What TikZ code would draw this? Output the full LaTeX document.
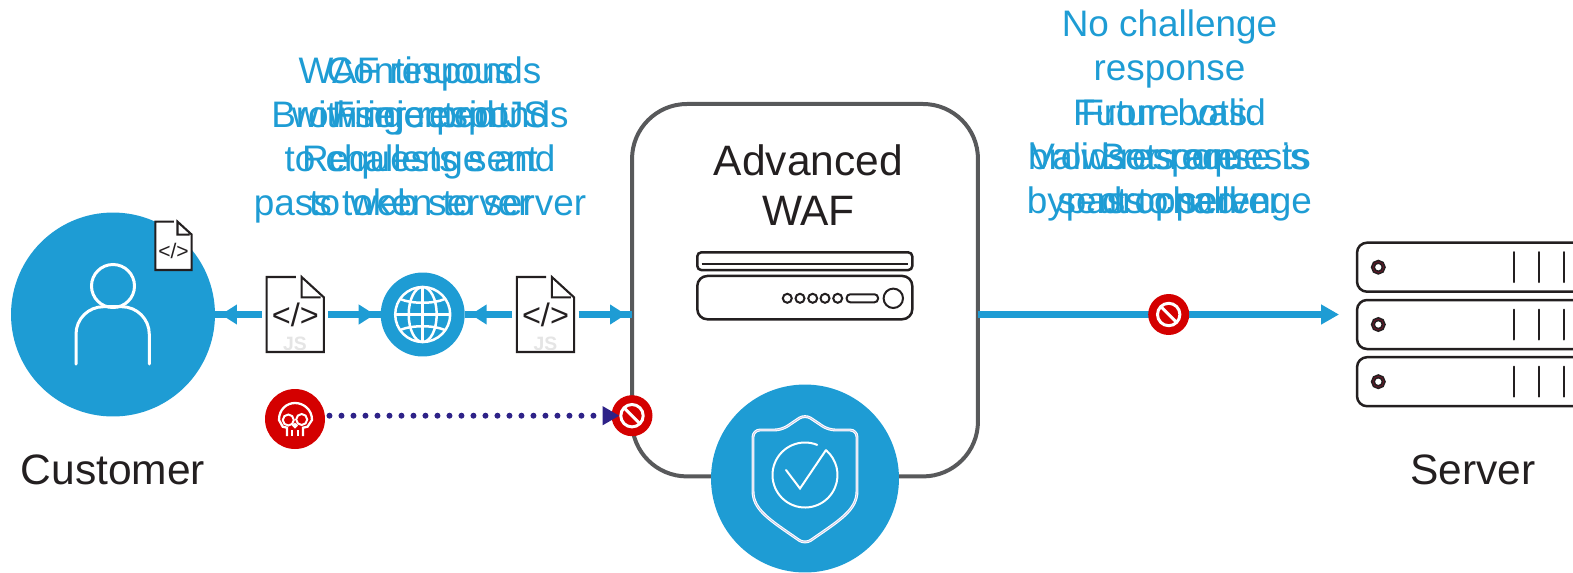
\documentclass[tikz,border=0pt]{standalone}
\usepackage{fontspec}
\setmainfont{Liberation Sans}
\usetikzlibrary{arrows.meta,decorations.markings,calc}
\definecolor{wafblue}{HTML}{1E9CD4}
\definecolor{wafred}{HTML}{D40000}
\definecolor{wafpurple}{HTML}{2E2288}
\definecolor{wafgrey}{HTML}{58595B}
\definecolor{wafink}{HTML}{231F20}
\definecolor{shieldcore}{HTML}{C4C2E6}
\definecolor{ledcore}{HTML}{6D1528}
\tikzset{
    bluedisc/.style={circle,fill=wafblue,inner sep=0pt,outer sep=0pt},
    stopdisc/.style={circle,fill=wafred,minimum size=.82cm,inner sep=0pt,outer sep=0pt},
    docbox/.style={inner sep=0pt,outer sep=0pt,fill=white},
    docline/.style={draw=wafink,line width=.042cm,line join=miter},
    bluetext/.style={text=wafblue,align=center,anchor=base,font=\fontsize{21}{24.9}\selectfont},
    inktext/.style={text=wafink,align=center,anchor=base,font=\fontsize{24.2}{28.4}\selectfont},
    flowline/.style={draw=wafblue,line width=.126cm},
    flowtip/.style={flowline,decoration={markings,mark=at position -.12cm with {\arrow{Triangle[length=.32cm,width=.38cm]}}},postaction={decorate}},
    whiteline/.style={draw=white,line width=.06cm,line cap=round},
    rackline/.style={draw=wafink,line width=.05cm},
}
\begin{document}
\begin{tikzpicture}[x=.02cm,y=-.02cm]
    \useasboundingbox (0,0) rectangle (1573,572);

    \node[bluetext] (wafsays) at (420,215) {WAF responds\\with injected JS\\to challenge and\\pass token to server};
    \node[bluetext] (retest) at (420,215) {Continuous\\Fingerprint\\Requests sent\\to web server};
    \node[bluetext] (browsersays) at (420,127) {Browser responds};
    \node[bluetext] (nochallenge) at (1169.5,80) {No challenge\\response};
    \node[bluetext] (dropped) at (1169.5,213) {From bots.\\Bots are\\dropped};
    \node[bluetext] (futurevalid) at (1169.5,213) {Future valid\\browser requests\\bypass challenge};
    \node[bluetext] (validreply) at (1169.5,213) {Valid response is\\sent to server};

    \node[bluedisc,minimum size=4.08cm] (customer) at (113,314.5) {};
    \node[inktext] (customerlabel) at (113,484) {Customer};
    \draw[whiteline] (113,286) circle (21.5);
    \draw[whiteline,rounded corners=.55cm] (76,364) -- (76,306.7) -- (149.3,306.7) -- (149.3,364);

    \node[docbox,minimum width=.728cm,minimum height=.966cm] (docsmall) at (173.5,245.8) {};
    \node[docbox,minimum width=1.146cm,minimum height=1.5cm] (docleft) at (295.3,314.5) {};
    \node[docbox,minimum width=1.146cm,minimum height=1.5cm] (docright) at (545.5,314.5) {};
    \foreach \d/\s in {docsmall/.635,docleft/1,docright/1}{
        \draw[docline] ([shift={(29.3*\s,0)}]\d.north west) -- (\d.north west) -- (\d.south west) -- (\d.south east) -- ([shift={(0,20.4*\s)}]\d.north east) -- ([shift={(35*\s,0)}]\d.north west) -- ([shift={(35*\s,20.4*\s)}]\d.north west) -- ([shift={(54*\s,20.4*\s)}]\d.north west);
    }
    \node[text=wafink,font=\fontsize{12}{12}\selectfont] (codesmall) at (173.5,250.5) {</>};
    \node[text=wafink,font=\fontsize{18.5}{18.5}\selectfont] (codeleft) at (295.3,314.5) {</>};
    \node[text=wafink,font=\fontsize{18.5}{18.5}\selectfont] (coderight) at (545.5,314.5) {</>};
    \node[text=black!10,font=\bfseries\fontsize{11}{11}\selectfont] (jsleft) at (295,344) {JS};
    \node[text=black!10,font=\bfseries\fontsize{11}{11}\selectfont] (jsright) at (545.5,344) {JS};

    \node[bluedisc,minimum size=1.68cm] (globe) at (422.7,314.5) {};
    \draw[draw=white,line width=.05cm] (globe) circle (27.5);
    \draw[draw=white,line width=.05cm] (globe) ellipse (14 and 27.5);
    \draw[draw=white,line width=.05cm] (422.7,287) -- (422.7,342);
    \draw[draw=white,line width=.05cm] (395.2,314.5) -- (450.2,314.5);
    \draw[draw=white,line width=.05cm] (400,299) .. controls (412,304) and (433,304) .. (445,299);
    \draw[draw=white,line width=.05cm] (400,330) .. controls (412,325) and (433,325) .. (445,330);

    \node[draw=wafgrey,line width=.08cm,rounded corners=1.1cm,minimum width=6.92cm,minimum height=7.45cm,outer sep=0pt] (waf) at (805,290.2) {};
    \node[inktext] (waflabel) at (808.5,225) {Advanced\\WAF};

    \draw[flowtip,shorten <=.09cm] (docleft.west) -- (customer.east);
    \draw[flowtip,shorten <=.09cm] (docleft.east) -- (globe.west);
    \draw[flowtip,shorten <=.09cm] (docright.west) -- (globe.east);
    \draw[flowtip,shorten <=.09cm] (docright.east) -- (waf.west |- docright.east);

    \node[draw=wafink,line width=.05cm,rounded corners=.08cm,minimum width=4.3cm,minimum height=.354cm,outer sep=0pt] (appliancelid) at (804.8,261.2) {};
    \draw[rackline,line width=.035cm] (701.7,264.3) -- (908.3,264.3);
    \node[draw=wafink,line width=.05cm,rounded corners=.2cm,minimum width=4.3cm,minimum height=.866cm,outer sep=0pt] (appliancebase) at (804.8,297.6) {};
    \foreach \x in {787.3,800,812.7,825,837.7}{
        \draw[rackline,line width=.04cm] (\x,298.3) circle (4.5);
    }
    \draw[rackline,line width=.04cm,rounded corners=.07cm] (846.7,294.3) rectangle (878,302.3);
    \draw[rackline,line width=.04cm] (893.3,298.3) circle (9.7);

    \node[bluedisc,minimum size=3.76cm] (shield) at (805,478.5) {};
    \draw[draw=white,double=shieldcore,line width=.022cm,double distance=.014cm,rounded corners=.14cm] (805,414.3) -- (828.3,430) -- (857,430) -- (857,484) .. controls (857,510) and (840,520) .. (805,544.3) .. controls (770,520) and (753,510) .. (753,484) -- (753,430) -- (781.7,430) -- cycle;
    \draw[whiteline,line width=.04cm] ($(805,475)+(-68:32.5)$) arc[start angle=-68,end angle=-409,radius=32.5];
    \draw[whiteline,line width=.04cm] (786,470) -- (800,488.5) -- (826,450);

    \node[stopdisc] (stopwaf) at (632,415.7) {};

    \node[circle,fill=wafred,minimum size=1.2cm,inner sep=0pt,outer sep=0pt] (skull) at (295,419) {};
    \draw[draw=white,line width=.046cm] (287,436) -- (287,427.7) -- (282.7,426.7) -- (279,420) .. controls (279,409) and (287,403) .. (295,403) .. controls (303,403) and (312,409) .. (312,420) -- (307.5,426.7) -- (303,427.7) -- (303,436);
    \draw[draw=white,line width=.04cm] (288.3,420) circle (5.5) (301.7,419.5) circle (5.5) (295,425.7) circle (1.6);
    \draw[draw=white,line width=.04cm] (292.3,430) -- (292.3,436) (297.7,430) -- (297.7,436);

    \draw[draw=wafpurple,line width=.12cm,line cap=round,dash pattern=on 0pt off .24cm,-{Triangle[length=.34cm,width=.36cm]},shorten <=.09cm,shorten >=-.16cm] (skull.east |- stopwaf) -- (stopwaf.west);

    \foreach \y/\name in {267.2/rackA,324.5/rackB,381.7/rackC}{
        \node[draw=wafink,line width=.05cm,rounded corners=.2cm,minimum width=5.3cm,minimum height=.98cm,outer sep=0pt] (\name) at (1489.5,\y) {};
        \draw[rackline,line width=.08cm] (1378.3,\y) circle (5.4);
        \draw[draw=ledcore,line width=.015cm] (1378.3,\y) circle (5.4);
        \foreach \x in {1514.3,1539.3,1564}{
            \draw[rackline,line width=.04cm,line cap=round] (\x,\y-15) -- (\x,\y+15);
        }
    }
    \node[inktext] (serverlabel) at (1473,484) {Server};

    \draw[flowline,-{Triangle[length=.36cm,width=.38cm]},shorten >=.36cm] (waf.east |- globe) -- (rackB.west |- globe);
    \node[stopdisc] (stopbots) at (1168.7,314.5) {};
    \foreach \b in {stopwaf,stopbots}{
        \draw[draw=white,line width=.06cm] (\b) circle (11.2);
        \draw[draw=white,line width=.06cm] ($(\b)+(-7.9,-7.9)$) -- ($(\b)+(7.9,7.9)$);
    }
\end{tikzpicture}
\end{document}
